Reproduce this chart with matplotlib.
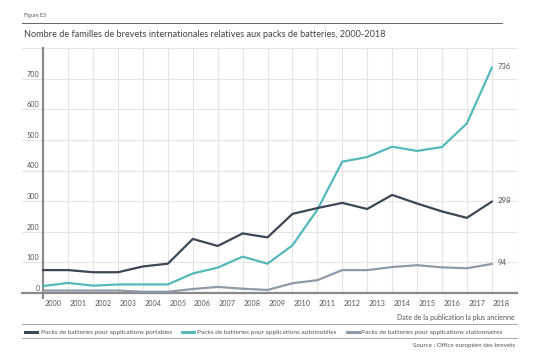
import matplotlib
matplotlib.use("Agg")
import matplotlib.pyplot as plt
from matplotlib.lines import Line2D

years = list(range(2000, 2019))
portable = [74, 74, 67, 67, 86, 95, 176, 153, 194, 181, 258, 277, 294, 274, 320, 292, 266, 245, 298]
automobile = [22, 32, 23, 27, 27, 27, 63, 82, 118, 95, 155, 272, 429, 444, 478, 464, 477, 554, 736]
stationary = [7, 7, 7, 7, 3, 3, 12, 19, 13, 9, 31, 41, 74, 74, 84, 90, 83, 80, 94]
series_names = ["Packs de batteries pour applications portables",
                "Packs de batteries pour applications automobiles",
                "Packs de batteries pour applications stationnaires"]
colors = ["#3b4656", "#55b8ba", "#8e9aa7"]
yticks = [0, 100, 200, 300, 400, 500, 600, 700]

plt.rcParams['font.family'] = ['Lato', 'DejaVu Sans']
TXT = "#555555"

W, H = 540, 360
fig = plt.figure(figsize=(5.4, 3.6), dpi=100)
def fx(px): return px / W
def fy(py): return 1 - py / H

left_px, right_px, top_px, bot_px = 21.7, 516.7, 48.3, 292.7
ax = fig.add_axes([fx(left_px), fy(bot_px), fx(right_px) - fx(left_px), fy(top_px) - fy(bot_px)])
x0 = 2000 - (43.3 - left_px) / 24.9
ax.set_xlim(x0, 2019)
ax.set_ylim(0, 800)
for s in ax.spines.values():
    s.set_visible(False)
ax.set_xticks([])
ax.set_yticks([])

# grid
for yv in list(range(100, 801, 100)):
    ax.axhline(yv, color="#e4e4e4", lw=0.8, zorder=0)
for xv in range(2001, 2020):
    ax.axvline(xv, color="#e4e4e4", lw=0.8, zorder=0)
# axes lines
ax.plot([2000, 2000], [-16, 800], color="#8a8a8a", lw=1.6, clip_on=False, zorder=1)
ax.plot([x0, 2019], [0, 0], color="#8a8a8a", lw=1.6, clip_on=False, zorder=1)

for vals, c in zip([stationary, automobile, portable], [colors[2], colors[1], colors[0]]):
    ax.plot(years, vals, color=c, lw=1.6, zorder=3, solid_joinstyle='round')

for yv in yticks:
    ax.text(1999.85, yv + 15, str(yv), ha="right", va="center", fontsize=5.2, color=TXT)
for yr in years:
    ax.text(yr + 0.05, -34, str(yr), ha="left", va="center", fontsize=5.2, color=TXT)

for vals in [automobile, portable, stationary]:
    ax.text(2018.25, vals[-1] + 4, str(vals[-1]), ha="left", va="center", fontsize=5.6, color=TXT)

# header
fig.text(fx(24), fy(15.7), "Figure E3", fontsize=3.8, color=TXT, va="center", ha="left")
fig.add_artist(Line2D([fx(22), fx(502)], [fy(22.7), fy(22.7)], color="#666666", lw=0.7))
fig.text(fx(24), fy(34.3), "Nombre de familles de brevets internationales relatives aux packs de batteries, 2000-2018",
         fontsize=6.6, color="#444444", va="center", ha="left")

# footer
fig.text(fx(515), fy(317.3), "Date de la publication la plus ancienne", fontsize=5.0, color=TXT, ha="right", va="center")
fig.add_artist(Line2D([fx(22), fx(517)], [fy(324), fy(324)], color="#999999", lw=0.6))
fig.add_artist(Line2D([fx(22), fx(517)], [fy(337.7), fy(337.7)], color="#999999", lw=0.6))
fig.text(fx(515), fy(345), "Source : Office européen des brevets", fontsize=4.5, color=TXT, ha="right", va="center")

leg_pos = [(25, 40.7), (182.3, 196.7), (347.3, 360.7)]
for (sx, tx), name, c in zip(leg_pos, series_names, colors):
    fig.add_artist(Line2D([fx(sx), fx(sx + 12)], [fy(332.3), fy(332.3)], color=c, lw=2.2))
    fig.text(fx(tx), fy(332.3), name, fontsize=4.65, color=TXT, ha="left", va="center")

fig.savefig("out.png", dpi=100, facecolor="white")
